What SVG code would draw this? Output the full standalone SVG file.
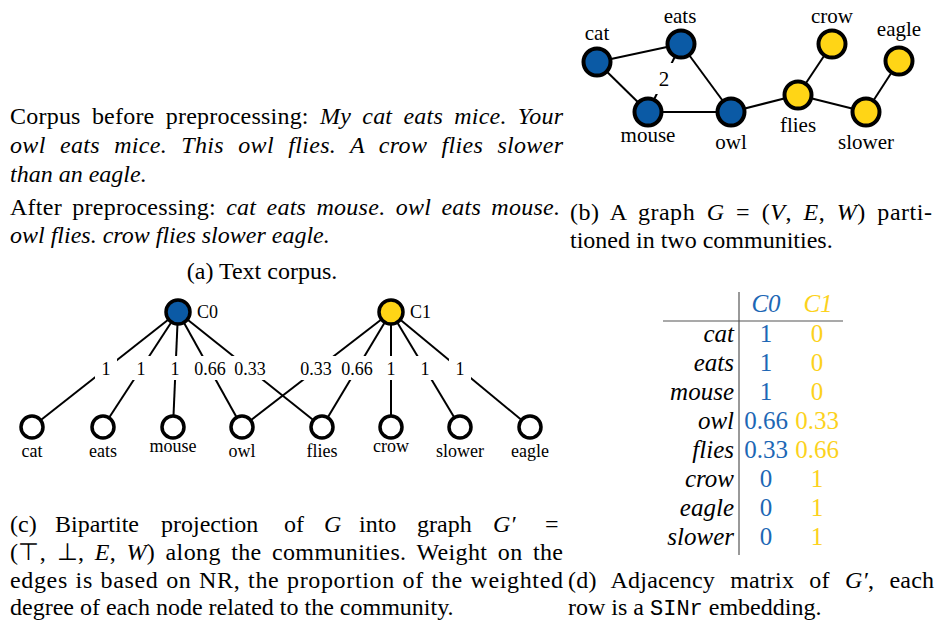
<svg xmlns="http://www.w3.org/2000/svg" width="935" height="626" viewBox="0 0 935 626">
<style>
text{font-family:"Liberation Serif","Times New Roman",serif;fill:#000}
.body{font-size:24px}
.it{font-style:italic}
.mono{font-family:"Liberation Mono","Courier New",monospace;font-size:22px}
.lb{font-size:21px;text-anchor:middle}
.lc{font-size:18px;text-anchor:middle}
.tb{font-size:25px}
.tr{text-anchor:end;font-style:italic}
.tm{text-anchor:middle}
.blue{fill:#1d67b5}
.yel{fill:#fcd21c}
.e{stroke:#000;stroke-width:2;fill:none}
.nb{stroke:#000;stroke-width:4}
.nc{stroke:#000;stroke-width:3.5}
.cb{fill:#0b5aa5}
.cy{fill:#ffd516}
.cw{fill:#fff}
.bg{fill:#fff}
.rule{stroke:#555;stroke-width:1.2}
</style>

<!-- (a) Text corpus -->
<g id="corpus" class="body">
<text x="10" y="124" word-spacing="5" textLength="553" lengthAdjust="spacing">Corpus before preprocessing: <tspan class="it">My cat eats mice. Your</tspan></text>
<text x="10" y="153" class="it" word-spacing="8" textLength="553" lengthAdjust="spacing">owl eats mice. This owl flies. A crow flies slower</text>
<text x="10" y="182" class="it">than an eagle.</text>
<text x="10" y="215" word-spacing="4" textLength="550" lengthAdjust="spacing">After preprocessing: <tspan class="it">cat eats mouse. owl eats mouse.</tspan></text>
<text x="10" y="243" class="it">owl flies. crow flies slower eagle.</text>
<text x="262" y="279" text-anchor="middle">(a) Text corpus.</text>
</g>

<!-- (b) graph G connectors -->
<g id="graph-b-edges">
<line class="e" x1="597" y1="62" x2="681" y2="44"/>
<line class="e" x1="597" y1="62" x2="648" y2="112"/>
<line class="e" x1="681" y1="44" x2="731" y2="112"/>
<line class="e" x1="648" y1="112" x2="731" y2="112"/>
<line class="e" x1="648" y1="112" x2="681" y2="44"/>
<line class="e" x1="731" y1="112" x2="798" y2="95"/>
<line class="e" x1="798" y1="95" x2="832" y2="44"/>
<line class="e" x1="798" y1="95" x2="866" y2="112"/>
<line class="e" x1="866" y1="112" x2="899" y2="61"/>
<rect class="bg" x="653" y="63" width="22" height="31"/>
<text x="664" y="86" class="lb">2</text>
</g>

<!-- (b) nodes -->
<g id="b-cat"><circle class="nb cb" cx="597" cy="62" r="13.5"/><text class="lb" x="597" y="40">cat</text></g>
<g id="b-eats"><circle class="nb cb" cx="681" cy="44" r="13.5"/><text class="lb" x="680" y="23">eats</text></g>
<g id="b-mouse"><circle class="nb cb" cx="648" cy="112" r="13.5"/><text class="lb" x="648" y="142">mouse</text></g>
<g id="b-owl"><circle class="nb cb" cx="731" cy="112" r="13.5"/><text class="lb" x="731" y="149">owl</text></g>
<g id="b-flies"><circle class="nb cy" cx="798" cy="95" r="13.5"/><text class="lb" x="798" y="132">flies</text></g>
<g id="b-crow"><circle class="nb cy" cx="832" cy="44" r="13.5"/><text class="lb" x="832" y="23">crow</text></g>
<g id="b-slower"><circle class="nb cy" cx="866" cy="112" r="13.5"/><text class="lb" x="866" y="149">slower</text></g>
<g id="b-eagle"><circle class="nb cy" cx="899" cy="61" r="13.5"/><text class="lb" x="899" y="36">eagle</text></g>

<g id="caption-b" class="body">
<text x="570" y="220" word-spacing="5" textLength="362" lengthAdjust="spacing">(b) A graph <tspan class="it">G</tspan> = (<tspan class="it">V</tspan>, <tspan class="it">E</tspan>, <tspan class="it">W</tspan>) parti-</text>
<text x="570" y="248">tioned in two communities.</text>
</g>

<!-- (c) bipartite connectors -->
<g id="graph-c-edges">
<line class="e" x1="178" y1="312" x2="32" y2="427"/>
<line class="e" x1="178" y1="312" x2="103" y2="427"/>
<line class="e" x1="178" y1="312" x2="173" y2="427"/>
<line class="e" x1="178" y1="312" x2="242" y2="427"/>
<line class="e" x1="178" y1="312" x2="322" y2="427"/>
<line class="e" x1="391" y1="312" x2="242" y2="427"/>
<line class="e" x1="391" y1="312" x2="322" y2="427"/>
<line class="e" x1="391" y1="312" x2="391" y2="427"/>
<line class="e" x1="391" y1="312" x2="460" y2="427"/>
<line class="e" x1="391" y1="312" x2="530" y2="427"/>
<rect class="bg" x="95" y="356" width="22" height="24"/>
<rect class="bg" x="130" y="356" width="22" height="24"/>
<rect class="bg" x="164" y="356" width="22" height="24"/>
<rect class="bg" x="189" y="356" width="42" height="24"/>
<rect class="bg" x="229" y="356" width="42" height="24"/>
<rect class="bg" x="295" y="356" width="42" height="24"/>
<rect class="bg" x="336" y="356" width="42" height="24"/>
<rect class="bg" x="380" y="356" width="22" height="24"/>
<rect class="bg" x="414" y="356" width="22" height="24"/>
<rect class="bg" x="449" y="356" width="22" height="24"/>
<text class="lc" x="106" y="375">1</text>
<text class="lc" x="141" y="375">1</text>
<text class="lc" x="175" y="375">1</text>
<text class="lc" x="210" y="375">0.66</text>
<text class="lc" x="250" y="375">0.33</text>
<text class="lc" x="316" y="375">0.33</text>
<text class="lc" x="357" y="375">0.66</text>
<text class="lc" x="391" y="375">1</text>
<text class="lc" x="425" y="375">1</text>
<text class="lc" x="460" y="375">1</text>
</g>

<!-- (c) nodes -->
<g id="c-C0"><circle class="nc cb" cx="178" cy="312" r="12"/><text x="197" y="318" font-size="18">C0</text></g>
<g id="c-C1"><circle class="nc cy" cx="391" cy="312" r="12"/><text x="410" y="318" font-size="18">C1</text></g>
<g id="c-cat"><circle class="nc cw" cx="32" cy="427" r="11"/><text class="lc" x="32" y="457">cat</text></g>
<g id="c-eats"><circle class="nc cw" cx="103" cy="427" r="11"/><text class="lc" x="103" y="457">eats</text></g>
<g id="c-mouse"><circle class="nc cw" cx="173" cy="427" r="11"/><text class="lc" x="173" y="452">mouse</text></g>
<g id="c-owl"><circle class="nc cw" cx="242" cy="427" r="11"/><text class="lc" x="242" y="457">owl</text></g>
<g id="c-flies"><circle class="nc cw" cx="322" cy="427" r="11"/><text class="lc" x="322" y="457">flies</text></g>
<g id="c-crow"><circle class="nc cw" cx="391" cy="427" r="11"/><text class="lc" x="391" y="452">crow</text></g>
<g id="c-slower"><circle class="nc cw" cx="460" cy="427" r="11"/><text class="lc" x="460" y="457">slower</text></g>
<g id="c-eagle"><circle class="nc cw" cx="530" cy="427" r="11"/><text class="lc" x="530" y="457">eagle</text></g>

<g id="caption-c" class="body">
<text y="532"><tspan x="10">(c)</tspan><tspan x="55">Bipartite</tspan><tspan x="161">projection</tspan><tspan x="284">of</tspan><tspan x="324" class="it">G</tspan><tspan x="359">into</tspan><tspan x="417">graph</tspan><tspan x="493" class="it">G′</tspan><tspan x="545">=</tspan></text>
<text x="10" y="560" word-spacing="4" textLength="553" lengthAdjust="spacing">(⊤, ⊥, <tspan class="it">E</tspan>, <tspan class="it">W</tspan>) along the communities. Weight on the</text>
<text x="10" y="588" word-spacing="1" textLength="553" lengthAdjust="spacing">edges is based on NR, the proportion of the weighted</text>
<text x="10" y="615">degree of each node related to the community.</text>
</g>

<!-- (d) adjacency matrix -->
<g id="matrix" class="tb">
<line class="rule" x1="739" y1="292" x2="739" y2="555"/>
<line class="rule" x1="663" y1="321" x2="843" y2="321"/>
<text class="it tm blue" x="766" y="312">C0</text>
<text class="it tm yel" x="818" y="312">C1</text>
<text class="tr" x="734" y="342">cat</text>
<text class="tr" x="734" y="371">eats</text>
<text class="tr" x="734" y="400">mouse</text>
<text class="tr" x="734" y="429">owl</text>
<text class="tr" x="734" y="458">flies</text>
<text class="tr" x="734" y="487">crow</text>
<text class="tr" x="734" y="516">eagle</text>
<text class="tr" x="734" y="545">slower</text>
<text class="tm blue" x="766" y="342">1</text><text class="tm yel" x="817" y="342">0</text>
<text class="tm blue" x="766" y="371">1</text><text class="tm yel" x="817" y="371">0</text>
<text class="tm blue" x="766" y="400">1</text><text class="tm yel" x="817" y="400">0</text>
<text class="tm blue" x="766" y="429">0.66</text><text class="tm yel" x="817" y="429">0.33</text>
<text class="tm blue" x="766" y="458">0.33</text><text class="tm yel" x="817" y="458">0.66</text>
<text class="tm blue" x="766" y="487">0</text><text class="tm yel" x="817" y="487">1</text>
<text class="tm blue" x="766" y="516">0</text><text class="tm yel" x="817" y="516">1</text>
<text class="tm blue" x="766" y="545">0</text><text class="tm yel" x="817" y="545">1</text>
</g>

<g id="caption-d" class="body">
<text x="568" y="588" word-spacing="9" textLength="366" lengthAdjust="spacing">(d) Adjacency matrix of <tspan class="it">G′</tspan>, each</text>
<text x="568" y="615">row is a <tspan class="mono">SINr</tspan> embedding.</text>
</g>
</svg>
